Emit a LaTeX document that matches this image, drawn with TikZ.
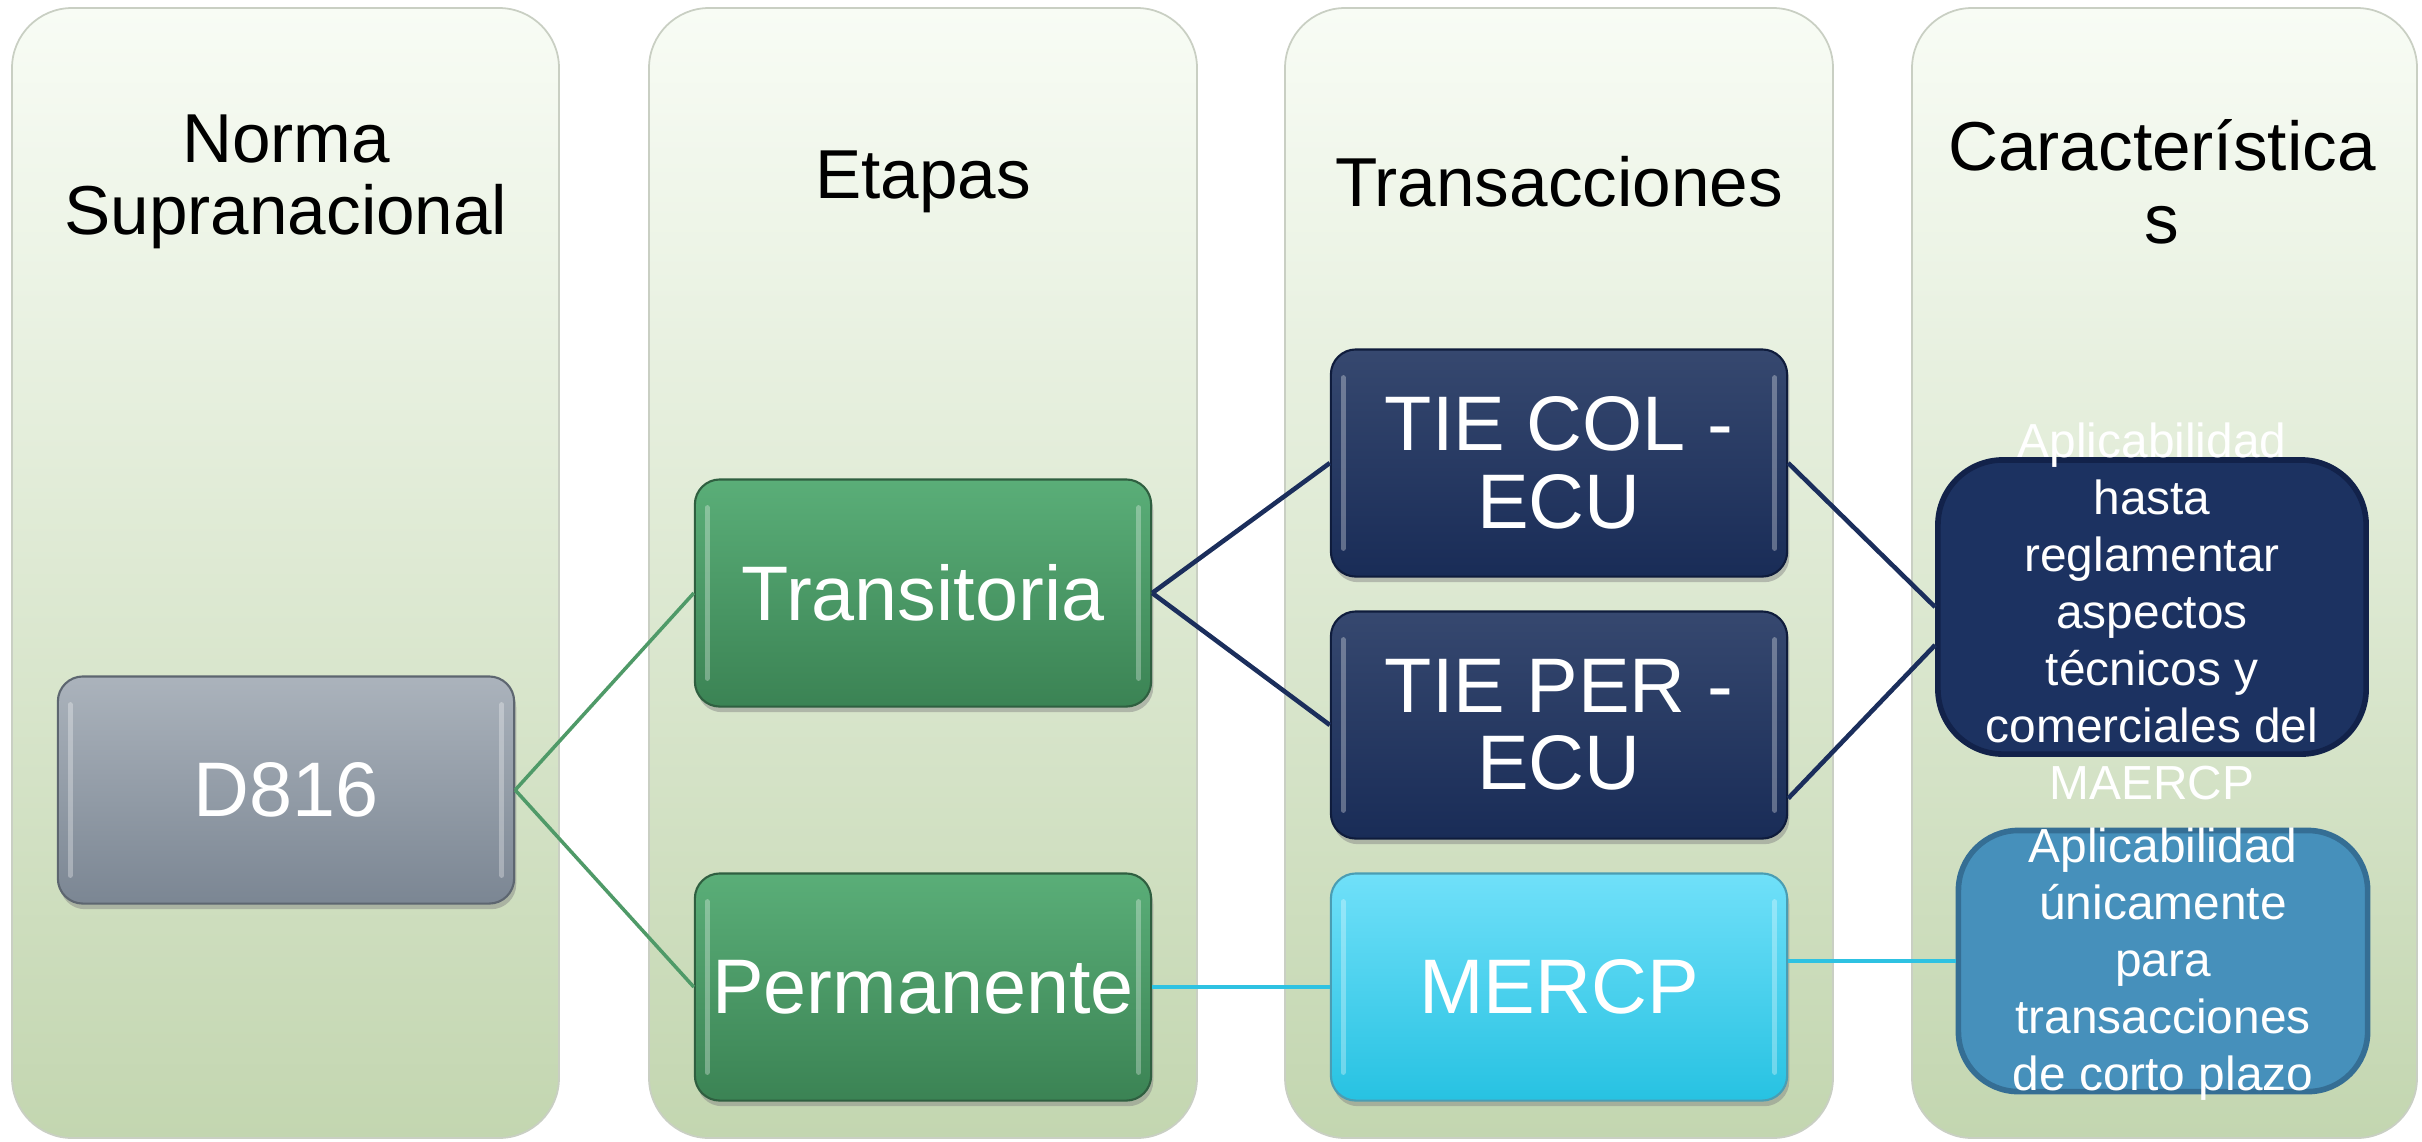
\documentclass[tikz,border=0pt]{standalone}
\usepackage{fontspec}
\setmainfont{Liberation Sans}
\usetikzlibrary{shadows,calc}

\definecolor{colTop}{HTML}{F8FCF5}
\definecolor{colBot}{HTML}{C3D6B0}
\definecolor{colEdge}{HTML}{C9CFC3}
\definecolor{grayTop}{HTML}{ABB3BC}
\definecolor{grayBot}{HTML}{7B8693}
\definecolor{grayEdge}{HTML}{5D6670}
\definecolor{greenTop}{HTML}{5AAE78}
\definecolor{greenBot}{HTML}{3B8354}
\definecolor{greenEdge}{HTML}{2F5F40}
\definecolor{navyTop}{HTML}{36486F}
\definecolor{navyBot}{HTML}{192C57}
\definecolor{navyEdge}{HTML}{0F1C3C}
\definecolor{cyanTop}{HTML}{70E0F9}
\definecolor{cyanBot}{HTML}{27C2E2}
\definecolor{cyanEdge}{HTML}{4A9DB3}
\definecolor{chrNavy}{HTML}{1C3261}
\definecolor{chrNavyEdge}{HTML}{12224A}
\definecolor{chrBlue}{HTML}{4690BB}
\definecolor{chrBlueEdge}{HTML}{356E94}
\definecolor{lineGreen}{HTML}{4F9A68}
\definecolor{lineNavy}{HTML}{1B2E5C}
\definecolor{lineCyan}{HTML}{2EC2E2}

\tikzset{
  gloss/.style={path picture={
    \draw[white, opacity=0.3, line width=1.4pt, line cap=round]
      ([xshift=3.5pt,yshift=-8pt]path picture bounding box.north west) -- ([xshift=3.5pt,yshift=8pt]path picture bounding box.south west)
      ([xshift=-3.5pt,yshift=-8pt]path picture bounding box.north east) -- ([xshift=-3.5pt,yshift=8pt]path picture bounding box.south east);
  }},
  box/.style={rounded corners=0.25cm, minimum width=4.56cm, minimum height=2.27cm,
    text=white, align=center, font=\fontsize{22}{22}\selectfont, line width=0.6pt,
    drop shadow={shadow xshift=0.6pt, shadow yshift=-1.6pt, opacity=0.45}, gloss},
  graybox/.style={box, draw=grayEdge, top color=grayTop, bottom color=grayBot},
  greenbox/.style={box, draw=greenEdge, top color=greenTop, bottom color=greenBot},
  navybox/.style={box, draw=navyEdge, top color=navyTop, bottom color=navyBot},
  cyanbox/.style={box, draw=cyanEdge, top color=cyanTop, bottom color=cyanBot},
  chrbox/.style={line width=1.6pt},
  chrtext/.style={text=white, align=center, font=\fontsize{13.6}{16.2}\selectfont},
  head/.style={align=center, font=\fontsize{19.7}{20.6}\selectfont},
  greenline/.style={lineGreen, line width=1pt},
  navyline/.style={lineNavy, line width=1.3pt},
  cyanline/.style={lineCyan, line width=1.4pt},
}

\begin{document}
\begin{tikzpicture}[x=0.01cm, y=-0.01cm]
\useasboundingbox (0,0) rectangle (2422,1141);

% columns
\foreach \xa/\xb in {12/559, 649/1197, 1285/1833, 1912/2417}
  \shadedraw[top color=colTop, bottom color=colBot, draw=colEdge, line width=0.5pt, rounded corners=0.6cm] (\xa,8) rectangle (\xb,1138);

% headers
\node[head] (h1) at (286,182) {Norma\\Supranacional};
\node[head] (h2) at (923,182) {Etapas};
\node[head] (h3) at (1559,182) {Transacciones};
\node[head] (h4) at (2162,182) {Característica\\s};

% boxes
\node[graybox] (d816) at (286,790) {D816};
\node[greenbox] (trans) at (923,593) {Transitoria};
\node[greenbox] (perm) at (923,987) {Permanente};
\node[navybox] (tcol) at (1559,463) {TIE COL -\\ECU};
\node[navybox] (tper) at (1559,725) {TIE PER -\\ECU};
\node[cyanbox] (mercp) at (1559,987) {MERCP};

\node[chrbox, fill=chrNavy, draw=chrNavyEdge, rounded corners=0.65cm, minimum width=4.28cm, minimum height=2.94cm] (chr1) at (2152,607) {};
\node[chrtext] (chr1txt) at (2152,611) {Aplicabilidad\\hasta\\reglamentar\\aspectos\\técnicos y\\comerciales del\\MAERCP};
\node[chrbox, fill=chrBlue, draw=chrBlueEdge, rounded corners=0.6cm, minimum width=4.09cm, minimum height=2.61cm] (chr2) at (2163,961) {};
\node[chrtext] (chr2txt) at (2163,964) {Aplicabilidad\\únicamente\\para\\transacciones\\de corto plazo};

% connectors
\draw[greenline] (d816.east) -- (trans.west);
\draw[greenline] (d816.east) -- (perm.west);
\draw[navyline] (trans.east) -- (tcol.west);
\draw[navyline] (trans.east) -- (tper.west);
\draw[cyanline] (perm.east) -- (mercp.west);
\draw[navyline] (tcol.east) -- (chr1.west);
\draw[navyline] ($(tper.south east)!0.18!(tper.north east)$) -- ([yshift=-0.38cm]chr1.west);
\draw[cyanline] (mercp.east |- chr2.west) -- (chr2.west);
\end{tikzpicture}
\end{document}
